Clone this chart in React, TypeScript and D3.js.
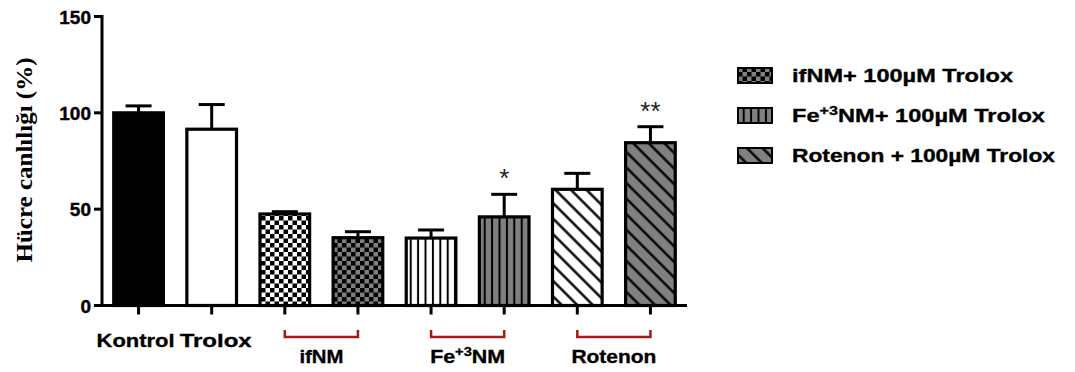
import React from "react";
import * as d3 from "d3";

const categories = ["Kontrol", "Trolox", "ifNM", "ifNM+T", "Fe", "Fe+T", "Rot", "Rot+T"];
const values = [100, 91.5, 47.5, 35.2, 35, 46, 60.3, 84.5];
const errors = [3.6, 12.8, 1.2, 3.1, 4.2, 11.7, 8.3, 8.3];
const fills = ["#000", "#fff", "url(#chkW)", "url(#chkG)", "url(#vlW)", "url(#vlG)", "url(#dgW)", "url(#dgG)"];
const stars = ["", "", "", "", "", "*", "", "**"];
const xLabels = [
  { cat: "Kontrol", text: "Kontrol", len: 78 },
  { cat: "Trolox", text: "Trolox", len: 72 },
];
const groups = [
  { from: "ifNM", to: "ifNM+T", label: "ifNM", sup: "", rest: "", len: 44 },
  { from: "Fe", to: "Fe+T", label: "Fe", sup: "+3", rest: "NM", len: 75 },
  { from: "Rot", to: "Rot+T", label: "Rotenon", sup: "", rest: "", len: 85 },
];
const legend = [
  { fill: "url(#chkG)", pre: "ifNM+ 100µM Trolox", sup: "", rest: "", len: 221 },
  { fill: "url(#vlG)", pre: "Fe", sup: "+3", rest: "NM+ 100µM Trolox", len: 253 },
  { fill: "url(#dgG)", pre: "Rotenon + 100µM Trolox", sup: "", rest: "", len: 263 },
];
const yTicks = [0, 50, 100, 150];

const GRAY = "#808080";
const SANS = "'Liberation Sans', Arial, sans-serif";

export default function App() {
  const x = d3.scaleBand<string>().domain(categories).range([102, 687]).paddingInner(0.28).paddingOuter(0.14);
  const y = d3.scaleLinear().domain([0, 150]).range([305.5, 16.5]);
  const bw = x.bandwidth();
  const y0 = y(0);

  return (
    <svg width={1075} height={372} style={{ position: "absolute", left: 0, top: 0, background: "#fff" }}>
      <defs>
        {[["chkW", "#fff"], ["chkG", GRAY]].map(([id, bg]) => (
          <pattern key={id} id={id} patternUnits="userSpaceOnUse" width={9} height={9}>
            <rect width={9} height={9} fill={bg} />
            <rect width={4.5} height={4.5} fill="#000" />
            <rect x={4.5} y={4.5} width={4.5} height={4.5} fill="#000" />
          </pattern>
        ))}
        {[["vlW", "#fff"], ["vlG", GRAY]].map(([id, bg]) => (
          <pattern key={id} id={id} patternUnits="userSpaceOnUse" width={7.4} height={10}>
            <rect width={7.4} height={10} fill={bg} />
            <line x1={3.7} x2={3.7} y1={0} y2={10} stroke="#000" strokeWidth={2} />
          </pattern>
        ))}
        {[["dgW", "#fff"], ["dgG", GRAY]].map(([id, bg]) => (
          <pattern key={id} id={id} patternUnits="userSpaceOnUse" width={11} height={10} patternTransform="rotate(-45)">
            <rect width={11} height={10} fill={bg} />
            <line x1={5.5} x2={5.5} y1={0} y2={10} stroke="#000" strokeWidth={2.4} />
          </pattern>
        ))}
      </defs>

      {/* bars */}
      {categories.map((c, i) => {
        const x0 = x(c)!;
        const cx = x0 + bw / 2;
        const top = y(values[i]);
        const et = y(values[i] + errors[i]);
        return (
          <g key={c}>
            <line x1={cx} x2={cx} y1={top} y2={et} stroke="#000" strokeWidth={3} />
            <line x1={cx - 13} x2={cx + 13} y1={et} y2={et} stroke="#000" strokeWidth={3} />
            <rect x={x0 + 1.5} y={top} width={bw - 3} height={y0 - top} fill={fills[i]} stroke="#000" strokeWidth={3.2} />
            {stars[i] && (
              <text x={cx} y={et - 7} textAnchor="middle" fontFamily={SANS} fontSize={26} fill="#222">
                {stars[i]}
              </text>
            )}
            <line x1={cx} x2={cx} y1={y0} y2={y0 + 9} stroke="#000" strokeWidth={3} />
          </g>
        );
      })}

      {/* axes */}
      <line x1={102} x2={102} y1={y(150) - 1.5} y2={y0 + 1.5} stroke="#000" strokeWidth={3} />
      <line x1={102} x2={687} y1={y0} y2={y0} stroke="#000" strokeWidth={3} />
      {yTicks.map((t) => (
        <g key={t}>
          <line x1={94} x2={102} y1={y(t)} y2={y(t)} stroke="#000" strokeWidth={3} />
          <text x={91} y={y(t) + 7} textAnchor="end" fontFamily={SANS} fontWeight="bold" fontSize={19} fill="#000" stroke="#000" strokeWidth={0.4}>
            {t}
          </text>
        </g>
      ))}

      {/* y label */}
      <text
        transform={`translate(32,160) rotate(-90)`}
        textAnchor="middle"
        fontFamily="'Liberation Serif', 'Times New Roman', serif"
        fontWeight="bold"
        fontSize={24}
        textLength={205}
        lengthAdjust="spacingAndGlyphs"
        fill="#000"
      >
        Hücre canlılığı (%)
      </text>

      {/* x labels */}
      {xLabels.map((l) => (
        <text
          key={l.cat}
          x={x(l.cat)! + bw / 2 - (l.cat === "Kontrol" ? 3 : -4)}
          y={347}
          textAnchor="middle"
          fontFamily={SANS}
          fontWeight="bold"
          fontSize={19}
          textLength={l.len}
          lengthAdjust="spacingAndGlyphs"
          fill="#000"
          stroke="#000"
          strokeWidth={0.35}
        >
          {l.text}
        </text>
      ))}

      {/* group brackets */}
      {groups.map((g) => {
        const a = x(g.from)! + bw / 2;
        const b = x(g.to)! + bw / 2;
        const m = (a + b) / 2;
        return (
          <g key={g.from}>
            <path d={`M${a},330 V337 H${b} V330`} fill="none" stroke="#a31b1b" strokeWidth={2.5} />
            <text
              x={m}
              y={363}
              textAnchor="middle"
              fontFamily={SANS}
              fontWeight="bold"
              fontSize={19}
              textLength={g.len}
              lengthAdjust="spacingAndGlyphs"
              fill="#000"
              stroke="#000"
              strokeWidth={0.35}
            >
              {g.label}
              {g.sup && (
                <tspan dy={-7} fontSize={13}>
                  {g.sup}
                </tspan>
              )}
              {g.rest && <tspan dy={7}>{g.rest}</tspan>}
            </text>
          </g>
        );
      })}

      {/* legend */}
      {legend.map((l, i) => {
        const base = 82 + i * 40;
        return (
          <g key={i}>
            <rect x={738} y={base - 14} width={34} height={15} fill={l.fill} stroke="#000" strokeWidth={2} />
            <text
              x={792}
              y={base}
              fontFamily={SANS}
              fontWeight="bold"
              fontSize={19}
              textLength={l.len}
              lengthAdjust="spacingAndGlyphs"
              fill="#000"
              stroke="#000"
              strokeWidth={0.35}
            >
              {l.pre}
              {l.sup && (
                <tspan dy={-7} fontSize={13}>
                  {l.sup}
                </tspan>
              )}
              {l.rest && <tspan dy={7}>{l.rest}</tspan>}
            </text>
          </g>
        );
      })}
    </svg>
  );
}
